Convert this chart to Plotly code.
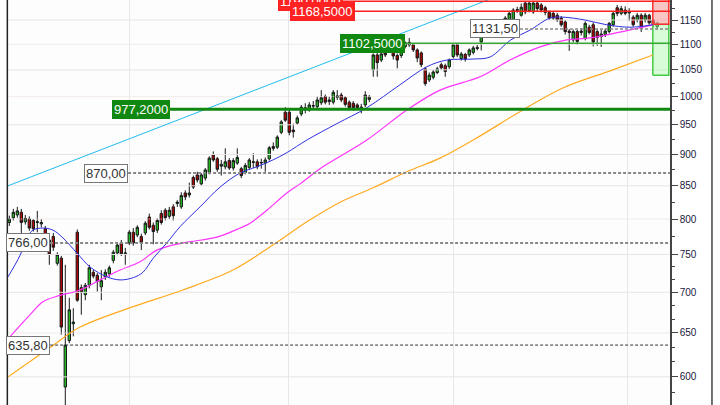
import math
import plotly.graph_objects as go

# ---------------- candle data ----------------
opens = [795, 802, 806, 810, 796, 800, 798, 795, 793, 786,
         770, 775, 738, 745, 589, 641, 661, 781, 706, 697,
         709, 726, 722, 707, 720, 724, 742, 752, 766, 751,
         766, 781, 777, 775, 780, 803, 791, 784, 808, 813,
         804, 818, 823, 818, 839, 836, 863, 867, 853, 862,
         871, 899, 893, 881, 880, 890, 878, 886, 877, 871,
         879, 887, 888, 886, 886, 893, 910, 912, 937, 972,
         972, 941, 953, 969, 980, 976, 984, 982, 989, 1000,
         991, 990, 999, 1003, 998, 990, 988, 985, 979, 985,
         995, 1050, 1079, 1069, 1094, 1088, 1090, 1078, 1078, 1096,
         1104, 1099, 1089, 1083, 1052, 1031, 1036, 1045, 1060, 1058,
         1056, 1076, 1099, 1072, 1080, 1079, 1084, 1094, 1105, 1117,
         1120, 1127, 1132, 1130, 1144, 1150, 1150, 1170, 1160, 1186,
         1170, 1167, 1186, 1182, 1176, 1166, 1164, 1160, 1154, 1146,
         1127, 1109, 1126, 1124, 1112, 1135, 1140, 1126, 1116, 1120,
         1126, 1140, 1176, 1164, 1171, 1165, 1156, 1150, 1160, 1150,
         1160, 1150, 1136]
highs = [805, 815, 818, 815, 806, 804, 800, 812, 800, 790,
         772, 780, 753, 748, 736, 693, 680, 785, 710, 712,
         736, 729, 725, 729, 730, 735, 756, 766, 770, 759,
         784, 787, 791, 779, 797, 808, 795, 801, 813, 816,
         818, 822, 828, 840, 843, 855, 866, 872, 870, 878,
         897, 905, 896, 891, 910, 894, 894, 910, 880, 886,
         894, 902, 892, 893, 895, 914, 920, 932, 958, 981,
         976, 952, 966, 985, 988, 990, 992, 1000, 1012, 1004,
         1000, 1012, 1012, 1007, 1001, 993, 992, 988, 987, 1010,
         1003, 1082, 1085, 1085, 1098, 1096, 1093, 1082, 1102, 1106,
         1113, 1102, 1092, 1086, 1056, 1045, 1050, 1056, 1064, 1062,
         1072, 1102, 1103, 1085, 1083, 1092, 1097, 1099, 1120, 1124,
         1131, 1137, 1140, 1149, 1158, 1168, 1175, 1178, 1185, 1190,
         1189, 1190, 1189, 1186, 1180, 1170, 1168, 1165, 1158, 1150,
         1131, 1130, 1130, 1133, 1147, 1140, 1145, 1130, 1130, 1132,
         1146, 1168, 1182, 1180, 1179, 1175, 1160, 1165, 1164, 1165,
         1163, 1153, 1146]
lows = [790, 798, 802, 780, 792, 783, 782, 781, 788, 772,
        736, 755, 735, 648, 560, 638, 646, 688, 672, 690,
        705, 718, 701, 690, 716, 720, 738, 749, 748, 736,
        763, 762, 774, 756, 777, 785, 764, 780, 792, 798,
        800, 798, 818, 815, 828, 832, 845, 855, 850, 858,
        868, 888, 872, 866, 876, 875, 874, 883, 862, 868,
        875, 878, 876, 877, 872, 890, 906, 909, 934, 955,
        932, 928, 950, 965, 970, 973, 978, 979, 985, 986,
        985, 986, 994, 990, 982, 977, 975, 976, 970, 981,
        990, 1037, 1037, 1065, 1075, 1083, 1070, 1053, 1073, 1092,
        1095, 1085, 1065, 1055, 1020, 1027, 1032, 1042, 1050, 1037,
        1052, 1072, 1075, 1068, 1066, 1075, 1080, 1088, 1088, 1113,
        1116, 1122, 1128, 1126, 1140, 1146, 1146, 1165, 1157, 1162,
        1166, 1163, 1168, 1166, 1160, 1150, 1150, 1146, 1136, 1120,
        1087, 1104, 1100, 1118, 1108, 1120, 1096, 1097, 1095, 1115,
        1122, 1136, 1158, 1160, 1160, 1148, 1136, 1145, 1125, 1145,
        1140, 1135, 1131]
closes = [800, 810, 812, 795, 801, 787, 786, 796, 795, 777,
          750, 760, 750, 657, 635.8, 678, 663, 690, 700, 709,
          732, 721, 714, 715, 726, 732, 753, 763, 751, 752,
          781, 766, 788, 766, 794, 788, 782, 798, 795, 802,
          813, 805, 825, 835, 833, 839, 848, 859, 867, 875,
          894, 891, 876, 884, 888, 878, 890, 895, 866, 882,
          891, 888, 880, 887, 891, 911, 913, 929, 955, 958,
          937, 938, 962, 981, 976, 985, 983, 994, 998, 990,
          994, 1008, 1001, 994, 986, 980, 980, 980, 981, 1003,
          999, 1079, 1064, 1081, 1079, 1090, 1077, 1069, 1099, 1103,
          1099, 1089, 1073, 1060, 1024, 1040, 1046, 1052, 1054, 1047,
          1069, 1099, 1079, 1081, 1071, 1089, 1093, 1092, 1117, 1120,
          1128, 1133, 1136, 1146, 1154, 1164, 1171, 1172, 1177, 1167,
          1186, 1186, 1174, 1171, 1166, 1154, 1154, 1150, 1140, 1126,
          1124, 1126, 1106, 1127, 1143, 1124, 1105, 1114, 1121, 1127,
          1143, 1164, 1164, 1174, 1164, 1168, 1140, 1160, 1134, 1160,
          1144, 1140, 1143]
bar_index = list(range(len(opens)))

# ---------------- moving averages (read at sample positions) ----------------
ma_fast_x = [-0.33, 2.7, 4.4, 5.9, 8.4, 10.9, 13.4, 16.9, 20.2, 24.4, 27.7, 31.0,
             33.4, 36.0, 39.4, 42.7, 47.7, 52.7, 57.7, 61.9, 65.9, 69.4, 74.4,
             81.9, 89.4, 97.7, 104.4, 109.4, 116.0, 120.2, 125.4, 130.2, 135.2,
             138.4, 143.9, 149.4, 155.2, 160.9]
ma_fast_y = [720, 749, 773, 784, 787, 784, 773, 752, 733, 720, 716, 719,
             726, 745, 766, 789, 818, 848, 870, 880, 891, 903, 924,
             952, 980, 1022, 1056, 1069, 1071, 1075, 1109, 1129, 1154,
             1156, 1150, 1140, 1135, 1140]
ma_mid_x = [-0.3, 5.2, 8.4, 11.9, 17.7, 22.7, 27.7, 32.7, 36.9, 43.5, 51.9, 57.7,
            60.2, 64.4, 69.4, 72.7, 78.4, 89.4, 99.4, 107.7, 117.7, 125.2, 132.7,
            139.4, 145.2, 152.7, 160.9]
ma_mid_y = [643, 672, 688, 695, 703, 716, 729, 740, 756, 766, 774, 787,
            794, 813, 839, 853, 880, 924, 976, 1012, 1037, 1069, 1095,
            1109, 1113, 1125, 1140]
ma_slow_x = [-0.3, 10.2, 17.7, 31.0, 43.4, 55.9, 65.9, 74.4, 82.7, 91.0, 99.4,
             107.7, 116.0, 128.4, 138.4, 150.9, 160.9]
ma_slow_y = [600, 633, 657, 682, 703, 729, 763, 796, 825, 847, 872,
             894, 924, 976, 1016, 1050, 1079]

# trend line (cyan)
trend_x = [-0.33, 125.0]
trend_y = [850, 1211]

# price levels
level_vals = [1190.0, 1168.5, 1102.5, 977.2, 1131.5, 870.0, 766.0, 635.8]
level_text = ["1190,0000", "1168,5000", "1102,5000", "977,2000",
              "1131,50", "870,00", "766,00", "635,80"]
level_start = [83.4, 86.4, 99.0, 40.2, 127.7, 29.7, 10.2, 10.2]

# target boxes at the right
box_x = [160.9, 164.9]
box_mid = 1141
box_top = 1196
box_bottom = 1040

# axes
y_ticks = [600, 650, 700, 750, 800, 850, 900, 950, 1000, 1050, 1100, 1150]
y_minor = [583.3, 616.7, 633.3, 666.7, 683.3, 716.7, 733.3, 775, 825, 875, 925,
           975, 1025, 1075, 1125, 1175]
grid_solid = [600, 700, 750, 850, 900, 950, 1050, 1150]
grid_dot = [650, 800, 1000, 1100]
grid_x = [30, 69.75, 111, 154.6]
x_range = [-0.33, 165.2]
y_range = [570, 1192.7]

fig = go.Figure()

X0, X1 = -2, 170


def hlines(vals):
    xs, ys = [], []
    for v in vals:
        xs += [X0, X1, None]
        ys += [v, v, None]
    return xs, ys


gx, gy = hlines(grid_solid)
fig.add_trace(go.Scatter(x=gx, y=gy, mode="lines", line=dict(color="#e9e4e4", width=1),
                         hoverinfo="skip"))
gx, gy = hlines(grid_dot)
fig.add_trace(go.Scatter(x=gx, y=gy, mode="lines",
                         line=dict(color="#eadada", width=1, dash="1px,1px"), hoverinfo="skip"))

# boxes
fig.add_trace(go.Scatter(x=[box_x[0], box_x[1], box_x[1], box_x[0], box_x[0]],
                         y=[box_bottom, box_bottom, box_mid, box_mid, box_bottom],
                         mode="lines", fill="toself", fillcolor="rgba(170,250,170,0.45)",
                         line=dict(color="#44cc44", width=1.5), hoverinfo="skip"))
fig.add_trace(go.Scatter(x=[box_x[0], box_x[1], box_x[1], box_x[0], box_x[0]],
                         y=[box_mid, box_mid, box_top, box_top, box_mid],
                         mode="lines", fill="toself", fillcolor="rgba(245,150,150,0.55)",
                         line=dict(color="#ff3030", width=1.5), hoverinfo="skip"))

# trend line
fig.add_trace(go.Scatter(x=trend_x, y=trend_y, mode="lines",
                         line=dict(color="#22bbee", width=1), hoverinfo="skip"))

# moving averages
fig.add_trace(go.Scatter(x=ma_slow_x, y=ma_slow_y, mode="lines", line_shape="spline",
                         line=dict(color="#ffaa22", width=1.2), hoverinfo="skip"))
fig.add_trace(go.Scatter(x=ma_mid_x, y=ma_mid_y, mode="lines", line_shape="spline",
                         line=dict(color="#ff33ff", width=1.2), hoverinfo="skip"))
fig.add_trace(go.Scatter(x=ma_fast_x, y=ma_fast_y, mode="lines", line_shape="spline",
                         line=dict(color="#3030e0", width=1), hoverinfo="skip"))

# level lines
level_line_style = [
    dict(color="#ff2020", width=1.5),
    dict(color="#ff2020", width=1.5),
    dict(color="#33aa33", width=1.5),
    dict(color="#118811", width=3),
    dict(color="#888888", width=1.5, dash="3px,2px"),
    dict(color="#888888", width=2, dash="3px,2px"),
    dict(color="#888888", width=2, dash="3px,2px"),
    dict(color="#333333", width=1, dash="3px,2px"),
]
for v, s, st in zip(level_vals, level_start, level_line_style):
    fig.add_trace(go.Scatter(x=[s, X1], y=[v, v], mode="lines", line=st, hoverinfo="skip"))

# candles
fig.add_trace(go.Candlestick(
    x=bar_index, open=opens, high=highs, low=lows, close=closes,
    increasing=dict(fillcolor="#22bb22", line=dict(color="#1a1a1a", width=1)),
    decreasing=dict(fillcolor="#b00000", line=dict(color="#1a1a1a", width=1)),
    whiskerwidth=0, hoverinfo="skip"))

# level labels
label_style = [
    dict(bg="#ff2222", border="#ff2222", fg="white"),
    dict(bg="#ff2222", border="#ff2222", fg="white"),
    dict(bg="#118811", border="#118811", fg="white"),
    dict(bg="#118811", border="#118811", fg="white"),
    dict(bg="white", border="#777777", fg="#333333"),
    dict(bg="white", border="#777777", fg="#333333"),
    dict(bg="white", border="#777777", fg="#333333"),
    dict(bg="white", border="#777777", fg="#333333"),
]
for v, t, s, st in zip(level_vals, level_text, level_start, label_style):
    fig.add_annotation(x=s, y=math.log10(v), xref="x", yref="y", text=t,
                       showarrow=False, xanchor="right", yanchor="middle",
                       font=dict(family="Liberation Sans", size=13, color=st["fg"]),
                       bgcolor=st["bg"], bordercolor=st["border"], borderwidth=1,
                       borderpad=1)

fig.update_layout(
    width=720, height=405,
    margin=dict(l=8, r=50, t=0, b=0),
    paper_bgcolor="white", plot_bgcolor="#fcfdfc",
    showlegend=False,
    boxgap=0.15,
    xaxis=dict(range=x_range, showticklabels=False, ticks="", tickvals=grid_x,
               showgrid=True, gridcolor="#e8e8e8", gridwidth=1, zeroline=False,
               showline=False, rangeslider=dict(visible=False)),
    yaxis=dict(type="log", range=[math.log10(y_range[0]), math.log10(y_range[1])],
               side="right", tickvals=y_ticks, ticktext=[str(v) for v in y_ticks],
               ticks="outside", ticklen=6, tickwidth=1, tickcolor="#444444",
               tickfont=dict(family="Liberation Sans", size=10, color="#202040"),
               showgrid=False, zeroline=False, showline=True, linecolor="#444444",
               linewidth=1.5,
               minor=dict(tickvals=y_minor, ticks="outside", ticklen=3,
                          tickcolor="#444444", showgrid=False)),
    shapes=[
        dict(type="line", xref="paper", yref="paper", x0=-0.001, x1=-0.001, y0=0, y1=1,
             line=dict(color="#222222", width=1.5)),
        dict(type="line", xref="paper", yref="paper", x0=1.0634, x1=1.0634, y0=0, y1=1,
             line=dict(color="#444444", width=1.5)),
    ],
)

fig.write_html("out.html", config={"displayModeBar": False},
               post_script="document.body.style.margin='0';document.body.style.overflow='hidden';")
